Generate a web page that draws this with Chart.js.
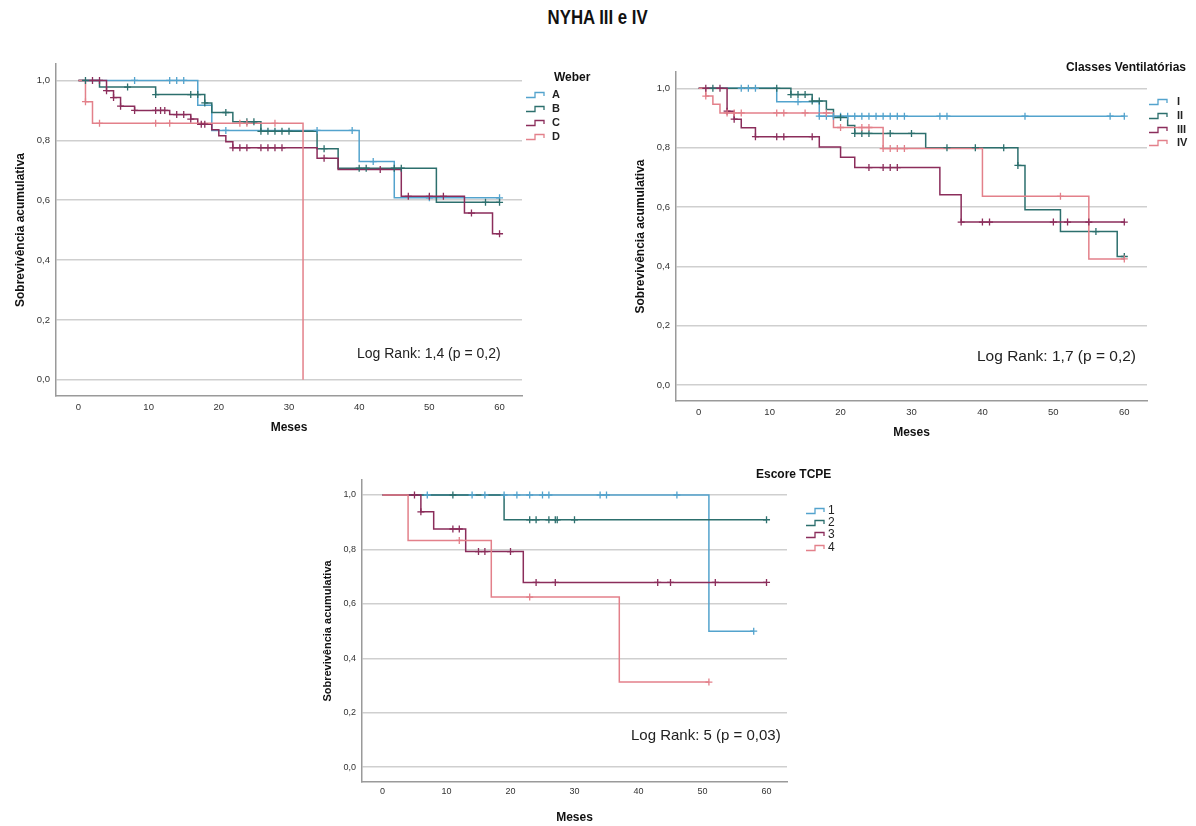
<!DOCTYPE html>
<html>
<head>
<meta charset="utf-8">
<script src="https://cdn.jsdelivr.net/npm/chart.js@4.4.1/dist/chart.umd.min.js"></script>
<style>
  body { margin: 0; background: #fff; }
  #page { position: relative; width: 1196px; height: 826px; overflow: hidden; background: #fff; }
  #title { position: absolute; left: 0; top: 6px; width: 1196px; text-align: center; }
  #title span { display: inline-block; transform: scaleX(0.84);
                font: bold 20px "Liberation Sans", Arial, sans-serif; color: #111; }
  canvas { position: absolute; }
</style>
</head>
<body>
<div id="page">
  <div id="title"><span>NYHA III e IV</span></div>
  <canvas id="weberChart" width="600" height="420" style="left:0px;top:40px"></canvas>
  <canvas id="ventChart" width="586" height="420" style="left:610px;top:40px"></canvas>
  <canvas id="tcpeChart" width="590" height="371" style="left:290px;top:455px"></canvas>
</div>
<script>
// Axis ticks (shared)
const monthTicks = [0, 10, 20, 30, 40, 50, 60];
const survTicks = [0, 0.2, 0.4, 0.6, 0.8, 1.0];

// Weber: event times (t), survival after event (s), censored times (cens)
const weberLabels = ["A", "B", "C", "D"];
const weberA_t = [0, 17, 19, 40, 45, 60];
const weberA_s = [1, 0.917, 0.833, 0.729, 0.608, 0.608];
const weberA_cens = [8, 13, 14, 15, 21, 34, 39, 42, 50, 60];
const weberB_t = [0, 3, 11, 18, 19, 22, 26, 34, 37, 51, 60];
const weberB_s = [1, 0.978, 0.953, 0.925, 0.893, 0.862, 0.830, 0.772, 0.707, 0.593, 0.593];
const weberB_cens = [1, 7, 11, 16, 17, 18, 21, 24, 25, 26, 27, 28, 29, 30, 35, 40, 41, 45, 46, 58, 60];
const weberC_t = [0, 4, 5, 6, 8, 13, 16, 17, 19, 20, 21, 22, 34, 37, 46, 55, 59, 60];
const weberC_s = [1, 0.966, 0.943, 0.914, 0.900, 0.886, 0.871, 0.854, 0.835, 0.815, 0.795, 0.775, 0.740, 0.703, 0.613, 0.557, 0.488, 0.488];
const weberC_cens = [2, 3, 4, 5, 6, 8, 11, 11.7, 12.3, 14, 15, 16, 17.5, 18, 22, 23, 24, 26, 27, 28, 29, 35, 43, 47, 50, 52, 56, 60];
const weberD_t = [0, 1, 2, 32];
const weberD_s = [1, 0.929, 0.857, 0];
const weberD_cens = [1, 3, 11, 13, 23, 24, 28];

// Classes Ventilatorias
const ventLabels = ["I", "II", "III", "IV"];
const ventI_t = [0, 11, 17, 60];
const ventI_s = [1, 0.955, 0.906, 0.906];
const ventI_cens = [6, 7, 8, 14, 17, 18, 19, 20, 21, 22, 23, 24, 25, 26, 27, 28, 29, 34, 35, 46, 58, 60];
const ventII_t = [0, 13, 16, 18, 19, 21, 22, 32, 45, 46, 51, 59, 60];
const ventII_s = [1, 0.979, 0.957, 0.929, 0.902, 0.875, 0.848, 0.800, 0.740, 0.591, 0.517, 0.433, 0.433];
const ventII_cens = [2, 11, 13, 14, 15, 16, 17, 20, 22, 23, 24, 27, 30, 35, 39, 43, 45, 56, 60];
const ventIII_t = [0, 4, 5, 6, 8, 17, 20, 22, 34, 37, 60];
const ventIII_s = [1, 0.923, 0.896, 0.867, 0.837, 0.802, 0.768, 0.733, 0.641, 0.549, 0.549];
const ventIII_cens = [1, 3, 4, 5, 8, 11, 12, 16, 24, 26, 27, 28, 37, 40, 41, 50, 52, 55, 60];
const ventIV_t = [0, 1, 2, 3, 19, 26, 40, 55, 60];
const ventIV_s = [1, 0.974, 0.946, 0.917, 0.868, 0.797, 0.636, 0.425, 0.425];
const ventIV_cens = [1, 4, 5, 6, 11, 12, 15, 18, 20, 23, 24, 26, 27, 28, 29, 51, 60];

// Escore TCPE
const tcpeLabels = ["1", "2", "3", "4"];
const tcpe1_t = [0, 51, 58];
const tcpe1_s = [1, 0.5, 0.5];
const tcpe1_cens = [7, 14, 16, 19, 21, 23, 25, 26, 34, 35, 46, 58];
const tcpe2_t = [0, 19, 60];
const tcpe2_s = [1, 0.909, 0.909];
const tcpe2_cens = [11, 23, 24, 26, 27, 27.3, 30, 60];
const tcpe3_t = [0, 6, 8, 13, 22, 60];
const tcpe3_s = [1, 0.938, 0.875, 0.792, 0.679, 0.679];
const tcpe3_cens = [5, 6, 11, 12, 15, 16, 20, 24, 27, 43, 45, 52, 60];
const tcpe4_t = [0, 4, 17, 37, 51];
const tcpe4_s = [1, 0.833, 0.625, 0.313, 0.313];
const tcpe4_cens = [12, 23, 51];

// Colours (SPSS style)
const colors = ["#53a3cd", "#2c6f6d", "#8b2d5b", "#e3808a"];
const FONT = '"Liberation Sans", Arial, sans-serif';

// survival value at time t (step function)
function survAt(ts, ss, t) {
    let v = ss[0];
    for (let i = 0; i < ts.length; i++) if (ts[i] <= t) v = ss[i];
    return v;
}

// legend, legend title and Log Rank note drawn on the canvas
function decorPlugin(cfg) {
    return {
        id: "kmDecor",
        afterDraw(chart) {
            const ctx = chart.ctx;
            ctx.save();
            ctx.textBaseline = "middle";
            ctx.fillStyle = "#111";
            ctx.font = "bold 12px " + FONT;
            ctx.textAlign = cfg.titleAlign;
            ctx.fillText(cfg.title, cfg.titleX, cfg.titleY);

            cfg.labels.forEach((lab, i) => {
                const y = cfg.itemY[i];
                const x0 = cfg.glyphX;
                ctx.strokeStyle = colors[i];
                ctx.lineWidth = 1.3;
                ctx.beginPath();
                ctx.moveTo(x0, y + 2.5);
                ctx.lineTo(x0 + 9, y + 2.5);
                ctx.lineTo(x0 + 9, y - 2.5);
                ctx.lineTo(x0 + 18, y - 2.5);
                ctx.lineTo(x0 + 18, y + 1);
                ctx.stroke();
                ctx.fillStyle = "#222";
                ctx.textAlign = "left";
                ctx.font = cfg.itemFont;
                ctx.fillText(lab, cfg.labelX, y);
            });

            ctx.fillStyle = "#222";
            ctx.textAlign = "left";
            ctx.font = cfg.noteSize + "px " + FONT;
            ctx.fillText(cfg.note, cfg.noteX, cfg.noteY);
            ctx.restore();
        }
    };
}

function kmChart(id, series, lay, decor) {
    const datasets = [];
    series.forEach((s, i) => {
        datasets.push({
            data: s.t.map((t, j) => ({ x: t, y: s.s[j] })),
            borderColor: colors[i],
            borderWidth: 1.5,
            stepped: true,
            pointRadius: 0,
            fill: false,
            order: 10 - i
        });
    });
    series.forEach((s, i) => {
        datasets.push({
            data: s.cens.map(t => ({ x: t, y: survAt(s.t, s.s, t) })),
            showLine: false,
            pointStyle: "cross",
            pointRadius: 3.5,
            pointBorderWidth: 1.3,
            borderColor: colors[i],
            pointBorderColor: colors[i],
            order: 5 - i
        });
    });

    return new Chart(document.getElementById(id), {
        type: "line",
        data: { datasets },
        options: {
            responsive: false,
            animation: false,
            events: [],
            layout: { padding: { left: 0, top: lay.top, right: lay.right, bottom: 0 } },
            plugins: { legend: { display: false }, tooltip: { enabled: false } },
            scales: {
                x: {
                    type: "linear",
                    min: -3.2,
                    max: 63.2,
                    afterBuildTicks: sc => { sc.ticks = monthTicks.map(v => ({ value: v })); },
                    afterFit: sc => { sc.height = lay.xHeight; },
                    grid: { display: false, drawTicks: false },
                    border: { display: true, color: "#9a9a9a", width: 1.5 },
                    ticks: { padding: lay.xTickPad, color: "#333", font: { family: FONT, size: lay.tickSize },
                             callback: v => String(v) },
                    title: { display: true, text: "Meses", color: "#111",
                             font: { family: FONT, size: 12, weight: "bold" },
                             padding: { top: 0, bottom: lay.xTitlePad } }
                },
                y: {
                    type: "linear",
                    min: -0.054,
                    max: 1.055,
                    afterBuildTicks: sc => { sc.ticks = survTicks.map(v => ({ value: v })); },
                    afterFit: sc => { sc.width = lay.yWidth; },
                    grid: { color: "#cfcfcf", lineWidth: 1.6, drawTicks: false },
                    border: { display: true, color: "#9a9a9a", width: 1.5 },
                    ticks: { padding: 6, color: "#333", font: { family: FONT, size: lay.tickSize },
                             callback: v => v.toFixed(1).replace(".", ",") },
                    title: { display: true, text: "Sobrevivência acumulativa", color: "#111",
                             font: { family: FONT, size: lay.yTitleSize, weight: "bold" },
                             padding: { top: lay.yTitlePad, bottom: 0 } }
                }
            }
        },
        plugins: [decorPlugin(decor)]
    });
}

kmChart("weberChart", [
    { t: weberA_t, s: weberA_s, cens: weberA_cens },
    { t: weberB_t, s: weberB_s, cens: weberB_cens },
    { t: weberC_t, s: weberC_s, cens: weberC_cens },
    { t: weberD_t, s: weberD_s, cens: weberD_cens }
], { top: 24, right: 78, yWidth: 56, xHeight: 64, xTickPad: 6, xTitlePad: 25, yTitlePad: 13, yTitleSize: 12, tickSize: 9.5 },
{ title: "Weber", titleAlign: "left", titleX: 554, titleY: 38, labels: weberLabels,
  itemY: [55, 69, 83, 97], glyphX: 526, labelX: 552, itemFont: "bold 11px " + FONT,
  note: "Log Rank: 1,4 (p = 0,2)", noteX: 357, noteY: 314, noteSize: 14 });

kmChart("ventChart", [
    { t: ventI_t, s: ventI_s, cens: ventI_cens },
    { t: ventII_t, s: ventII_s, cens: ventII_cens },
    { t: ventIII_t, s: ventIII_s, cens: ventIII_cens },
    { t: ventIV_t, s: ventIV_s, cens: ventIV_cens }
], { top: 32, right: 49, yWidth: 66, xHeight: 59, xTickPad: 6, xTitlePad: 20, yTitlePad: 23, yTitleSize: 12, tickSize: 9.5 },
{ title: "Classes Ventilatórias", titleAlign: "right", titleX: 576, titleY: 28, labels: ventLabels,
  itemY: [62, 76, 90, 103], glyphX: 539, labelX: 567, itemFont: "bold 11px " + FONT,
  note: "Log Rank: 1,7 (p = 0,2)", noteX: 367, noteY: 317, noteSize: 15.5 });

kmChart("tcpeChart", [
    { t: tcpe1_t, s: tcpe1_s, cens: tcpe1_cens },
    { t: tcpe2_t, s: tcpe2_s, cens: tcpe2_cens },
    { t: tcpe3_t, s: tcpe3_s, cens: tcpe3_cens },
    { t: tcpe4_t, s: tcpe4_s, cens: tcpe4_cens }
], { top: 25, right: 93, yWidth: 72, xHeight: 44, xTickPad: 4, xTitlePad: 1, yTitlePad: 31, yTitleSize: 11, tickSize: 9 },
{ title: "Escore TCPE", titleAlign: "left", titleX: 466, titleY: 20, labels: tcpeLabels,
  itemY: [56, 68, 80, 93], glyphX: 516, labelX: 538, itemFont: "12px " + FONT,
  note: "Log Rank: 5 (p = 0,03)", noteX: 341, noteY: 281, noteSize: 15 });
</script>
</body>
</html>
